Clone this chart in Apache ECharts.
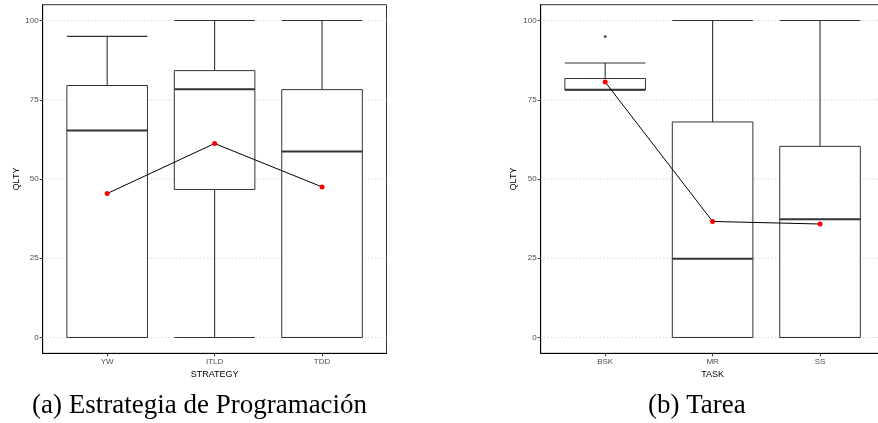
<!DOCTYPE html>
<html>
<head>
<meta charset="utf-8">
<script src="https://cdn.jsdelivr.net/npm/echarts@6/dist/echarts.min.js"></script>
<style>
  html, body { margin: 0; padding: 0; background: #fff; overflow: hidden; }
  /* the second panel runs slightly past the right edge of the page */
  #chart { width: 890px; height: 423px; }
</style>
</head>
<body>
<div id="chart"></div>
<script>
// Programming strategy panel: [low whisker, Q1, median, Q3, high whisker]
const strategies = ['YW', 'ITLD', 'TDD'];
const strategyStats = [
  [0, 0, 65.3, 79.5, 95],
  [0, 46.7, 78.3, 84.2, 100],
  [0, 0, 58.7, 78.2, 100]
];
const strategyMeans = [45.4, 61.2, 47.5];

// Task panel: [low whisker, Q1, median, Q3, high whisker]
const tasks = ['BSK', 'MR', 'SS'];
const taskStats = [
  [78.2, 78.2, 78.2, 81.7, 86.6],
  [0, 0, 24.8, 68.0, 100],
  [0, 0, 37.3, 60.3, 100]
];
const taskMeans = [80.6, 36.6, 35.8];
const taskOutliers = [['BSK', 95]];

const qltyTicks = [0, 25, 50, 75, 100];
const captions = ['(a) Estrategia de Programación', '(b) Tarea'];

const X_MIN = 0.4, X_MAX = 3.6;
const BOX_WIDTH = 0.75;
const SANS = '"Liberation Sans", Arial, sans-serif';
const INK = '#333333';

function boxSeries(stats, gridIdx) {
  return {
    type: 'custom',
    xAxisIndex: gridIdx,
    yAxisIndex: gridIdx,
    z: 3,
    animation: false,
    data: stats.map((s, i) => [i + 1].concat(s)),
    encode: { x: 0, y: [1, 2, 3, 4, 5] },
    renderItem: function (params, api) {
      const x = api.value(0);
      const low = api.value(1), q1 = api.value(2), med = api.value(3),
            q3 = api.value(4), high = api.value(5);
      const h = BOX_WIDTH / 2;
      const p = (xx, yy) => api.coord([xx, yy]);
      const seg = (a, b, w) => ({
        type: 'line',
        shape: { x1: a[0], y1: a[1], x2: b[0], y2: b[1] },
        style: { stroke: INK, lineWidth: w }
      });
      const tl = p(x - h, q3), br = p(x + h, q1);
      return {
        type: 'group',
        children: [
          seg(p(x, q3), p(x, high), 1.1),
          seg(p(x, q1), p(x, low), 1.1),
          seg(p(x - h, high), p(x + h, high), 1.1),
          seg(p(x - h, low), p(x + h, low), 1.1),
          {
            type: 'rect',
            shape: { x: tl[0], y: tl[1], width: br[0] - tl[0], height: br[1] - tl[1] },
            style: { fill: '#ffffff', stroke: INK, lineWidth: 1 }
          },
          seg(p(x - h, med), p(x + h, med), 2)
        ]
      };
    }
  };
}

function gridLineSeries(gridIdx) {
  return {
    type: 'custom',
    xAxisIndex: gridIdx,
    yAxisIndex: gridIdx,
    z: 1,
    animation: false,
    silent: true,
    data: qltyTicks.map(v => [X_MIN, v]),
    encode: { x: 0, y: 1 },
    renderItem: function (params, api) {
      const a = api.coord([X_MIN, api.value(1)]);
      const b = api.coord([X_MAX, api.value(1)]);
      return {
        type: 'line',
        shape: { x1: a[0], y1: a[1], x2: b[0], y2: b[1] },
        style: { stroke: '#c9c9c9', lineWidth: 1, lineDash: [1, 2.5] }
      };
    }
  };
}

function meanSeries(means, gridIdx) {
  return {
    type: 'line',
    xAxisIndex: gridIdx,
    yAxisIndex: gridIdx,
    z: 5,
    animation: false,
    data: means.map((m, i) => [i + 1, m]),
    symbol: 'circle',
    symbolSize: 5,
    itemStyle: { color: '#ff0000' },
    lineStyle: { color: '#000000', width: 1 }
  };
}

function xAxis(cats, name, gridIdx) {
  return {
    type: 'value',
    gridIndex: gridIdx,
    min: X_MIN,
    max: X_MAX,
    name: name,
    nameLocation: 'middle',
    nameGap: 15,
    nameTextStyle: { color: '#000', fontSize: 9, fontFamily: SANS },
    axisLine: { onZero: false, lineStyle: { color: '#000', width: 1 } },
    axisTick: { show: true, length: 3, customValues: [1, 2, 3], lineStyle: { color: INK } },
    axisLabel: {
      customValues: [1, 2, 3],
      formatter: v => cats[Math.round(v) - 1],
      color: '#4d4d4d', fontSize: 8, fontFamily: SANS, margin: 4
    },
    splitLine: { show: false }
  };
}

function yAxis(gridIdx, gap) {
  return {
    type: 'value',
    gridIndex: gridIdx,
    min: -5,
    max: 105,
    name: 'QLTY',
    nameLocation: 'middle',
    nameGap: gap,
    nameRotate: 90,
    nameTextStyle: { color: '#000', fontSize: 9, fontFamily: SANS },
    axisLine: { show: true, onZero: false, lineStyle: { color: '#000', width: 1 } },
    axisTick: { show: true, length: 3, customValues: qltyTicks, lineStyle: { color: INK } },
    axisLabel: {
      customValues: qltyTicks,
      color: '#4d4d4d', fontSize: 8, fontFamily: SANS, margin: 4
    },
    splitLine: { show: false }
  };
}

const chart = echarts.init(document.getElementById('chart'), null, { renderer: 'canvas' });

chart.setOption({
  animation: false,
  backgroundColor: '#ffffff',
  grid: [
    { left: 42.7, top: 4.7, width: 343.8, height: 348.6, show: true, borderColor: INK, borderWidth: 1, backgroundColor: 'transparent' },
    { left: 540.7, top: 4.7, width: 343.8, height: 348.6, show: true, borderColor: INK, borderWidth: 1, backgroundColor: 'transparent' }
  ],
  xAxis: [xAxis(strategies, 'STRATEGY', 0), xAxis(tasks, 'TASK', 1)],
  yAxis: [yAxis(0, 21), yAxis(1, 23)],
  graphic: [
    {
      type: 'text', left: 32, top: 392,
      style: { text: captions[0], font: '27px "Liberation Serif", "Times New Roman", serif', fill: '#000' }
    },
    {
      type: 'text', left: 648, top: 392,
      style: { text: captions[1], font: '27px "Liberation Serif", "Times New Roman", serif', fill: '#000' }
    }
  ],
  series: [
    gridLineSeries(0),
    gridLineSeries(1),
    boxSeries(strategyStats, 0),
    boxSeries(taskStats, 1),
    {
      type: 'scatter',
      xAxisIndex: 1,
      yAxisIndex: 1,
      z: 4,
      animation: false,
      symbolSize: 3,
      itemStyle: { color: INK },
      data: taskOutliers.map(([c, v]) => [tasks.indexOf(c) + 1, v])
    },
    meanSeries(strategyMeans, 0),
    meanSeries(taskMeans, 1)
  ]
});
</script>
</body>
</html>
